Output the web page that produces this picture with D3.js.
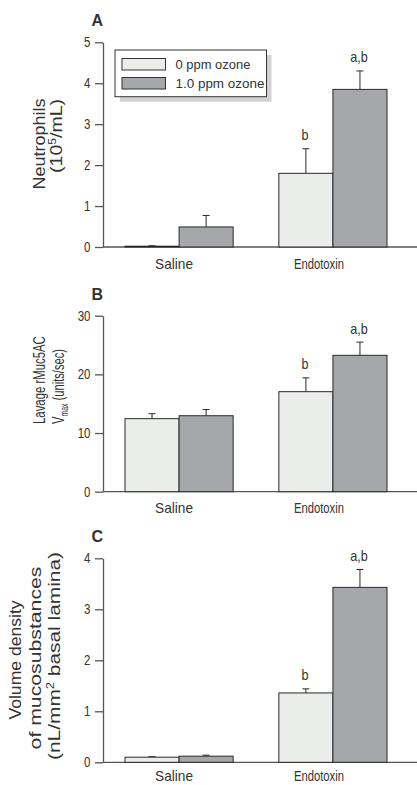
<!DOCTYPE html>
<html lang="en">
<head>
  <meta charset="UTF-8">
  <title>Ozone / endotoxin panels</title>
  <script src="https://d3js.org/d3.v7.min.js"></script>
  <style>
    html, body { margin: 0; padding: 0; background: #fff; }
    svg { display: block; font-family: "Liberation Sans", Arial, sans-serif; }
    .axis path, .axis line { stroke: #555; stroke-width: 1.3; }
    .axis text { font-size: 14px; fill: #333; }
    .bar { stroke: #2a2a2a; stroke-width: 1; }
    .err { stroke: #2a2a2a; stroke-width: 1; fill: none; }
    text { fill: #333; }
  </style>
</head>
<body>
  <svg width="417" height="785"></svg>
  <script>
    const groups = ["Saline", "Endotoxin"];
    const series = ["0 ppm ozone", "1.0 ppm ozone"];
    const colors = ["#ebedeb", "#a6a7aa"];

    // panel A: neutrophils
    const neutroMean = [[0.02, 0.49], [1.80, 3.85]];
    const neutroErr  = [[0.03, 0.77], [2.40, 4.30]];
    const neutroSig  = [["", ""], ["b", "a,b"]];
    const neutroTicks = [0, 1, 2, 3, 4, 5];

    // panel B: rMuc5AC
    const mucMean = [[12.45, 12.95], [17.05, 23.25]];
    const mucErr  = [[13.3, 14.0], [19.4, 25.5]];
    const mucSig  = [["", ""], ["b", "a,b"]];
    const mucTicks = [0, 10, 20, 30];

    // panel C: volume density
    const volMean = [[0.10, 0.12], [1.36, 3.43]];
    const volErr  = [[0.11, 0.14], [1.44, 3.78]];
    const volSig  = [["", ""], ["b", "a,b"]];
    const volTicks = [0, 1, 2, 3, 4];

    const svg = d3.select("svg");
    const axisX = 103, rightX = 417;

    const x0 = d3.scaleBand().domain(groups).range([103, 409]).paddingInner(0.297).paddingOuter(0.143);
    const x1 = d3.scaleBand().domain(series).range([0, x0.bandwidth()]);

    // squeeze / stretch a text so it spans len px along its own direction
    function fit(t, len, x, y, rot) {
      const w = t.node().getBBox().width;
      t.attr("transform", `translate(${x},${y}) rotate(${rot}) scale(${len / w},1)`);
    }

    function panel(opt) {
      const g = svg.append("g");
      const y = d3.scaleLinear().domain([0, opt.max]).range([opt.bottom, opt.top]);

      g.append("text").attr("x", 91.5).attr("y", opt.top - 16)
        .attr("font-size", 16).attr("font-weight", "bold").attr("fill", "#222").text(opt.letter);

      const ax = g.append("g").attr("class", "axis").attr("transform", `translate(${axisX},0)`)
        .call(d3.axisLeft(y).tickValues(opt.ticks).tickFormat(d3.format("d"))
          .tickSize(8).tickPadding(0).tickSizeOuter(0));
      ax.selectAll(".tick text").attr("x", 0)
        .attr("transform", "translate(-12.5,0) scale(0.82,1)");

      g.append("line").attr("x1", axisX).attr("x2", rightX)
        .attr("y1", opt.bottom).attr("y2", opt.bottom).attr("stroke", "#555").attr("stroke-width", 1.3);

      groups.forEach((grp, gi) => {
        series.forEach((s, si) => {
          const bx = x0(grp) + x1(s), bw = x1.bandwidth();
          const top = y(opt.mean[gi][si]);
          const cx = bx + bw / 2;
          const ey = y(opt.err[gi][si]);
          g.append("line").attr("class", "err").attr("x1", cx).attr("x2", cx)
            .attr("y1", top).attr("y2", ey);
          g.append("line").attr("class", "err").attr("x1", cx - 3.5).attr("x2", cx + 3.5)
            .attr("y1", ey).attr("y2", ey);
          g.append("rect").attr("class", "bar").attr("x", bx).attr("width", bw)
            .attr("y", top).attr("height", Math.max(opt.bottom - top, 0.5)).attr("fill", colors[si]);
          if (opt.sig[gi][si]) {
            g.append("text").attr("text-anchor", "middle").attr("font-size", 14)
              .attr("transform", `translate(${cx - 1},${ey - 8.5}) scale(0.9,1)`)
              .text(opt.sig[gi][si]);
          }
        });
        const lab = g.append("text").attr("text-anchor", "middle").attr("font-size", 14.5).text(grp);
        fit(lab, catLen[gi], x0(grp) + x0.bandwidth() / 2 + catShift[gi], opt.bottom + opt.catDy, 0);
      });

      opt.label.forEach(ln => {
        const t = g.append("text").attr("text-anchor", ln.anchor).attr("font-size", opt.labelSize);
        ln.parts.forEach(part => {
          const sp = t.append("tspan").text(part.t);
          if (part.sup) sp.attr("font-size", opt.labelSize * 0.62).attr("dy", -6);
          if (part.sub) sp.attr("font-size", opt.labelSize * 0.62).attr("dy", 4);
          if (part.back) sp.attr("dy", part.back);
        });
        fit(t, ln.len, ln.x, ln.y, -90);
      });
      return g;
    }

    const catLen = [38, 50];
    const catShift = [-5, -14];

    panel({ letter: "A", top: 42.3, bottom: 247, max: 5, ticks: neutroTicks, catDy: 21.5,
      mean: neutroMean, err: neutroErr, sig: neutroSig, labelSize: 16.5,
      label: [
        { parts: [{ t: "Neutrophils" }], anchor: "end", x: 45, y: 98.5, len: 91 },
        { parts: [{ t: "(10" }, { t: "5", sup: true }, { t: "/mL)", back: 6 }], anchor: "end", x: 61.7, y: 99, len: 74 }
      ] });

    panel({ letter: "B", top: 315.7, bottom: 491.7, max: 30, ticks: mucTicks, catDy: 21.5,
      mean: mucMean, err: mucErr, sig: mucSig, labelSize: 16.5,
      label: [
        { parts: [{ t: "Lavage rMuc5AC" }], anchor: "start", x: 45, y: 424, len: 88 },
        { parts: [{ t: "V" }, { t: "max", sub: true }, { t: " (units/sec)", back: -4 }], anchor: "start", x: 63.5, y: 424, len: 75 }
      ] });

    panel({ letter: "C", top: 558.3, bottom: 762.3, max: 4, ticks: volTicks, catDy: 18.5,
      mean: volMean, err: volErr, sig: volSig, labelSize: 16.5,
      label: [
        { parts: [{ t: "Volume density" }], anchor: "middle", x: 21, y: 660, len: 120 },
        { parts: [{ t: "of mucosubstances" }], anchor: "middle", x: 40.5, y: 658, len: 183 },
        { parts: [{ t: "(nL/mm" }, { t: "2", sup: true }, { t: " basal lamina)", back: 6 }], anchor: "middle", x: 60, y: 656, len: 208 }
      ] });

    // legend in panel A
    const leg = svg.append("g");
    leg.append("rect").attr("x", 120).attr("y", 55).attr("width", 151.5).attr("height", 46.7).attr("fill", "#d2d2d2");
    leg.append("rect").attr("x", 115).attr("y", 50).attr("width", 151.5).attr("height", 46.7)
      .attr("fill", "#fff").attr("stroke", "#333");
    series.forEach((s, i) => {
      leg.append("rect").attr("x", 122).attr("y", 58.5 + i * 19).attr("width", 43.5).attr("height", 11.5)
        .attr("fill", colors[i]).attr("stroke", "#333");
      const t = leg.append("text").attr("font-size", 13).text(s);
      fit(t, i ? 89 : 75, 175.5, 69 + i * 18.5, 0);
    });
  </script>
</body>
</html>
